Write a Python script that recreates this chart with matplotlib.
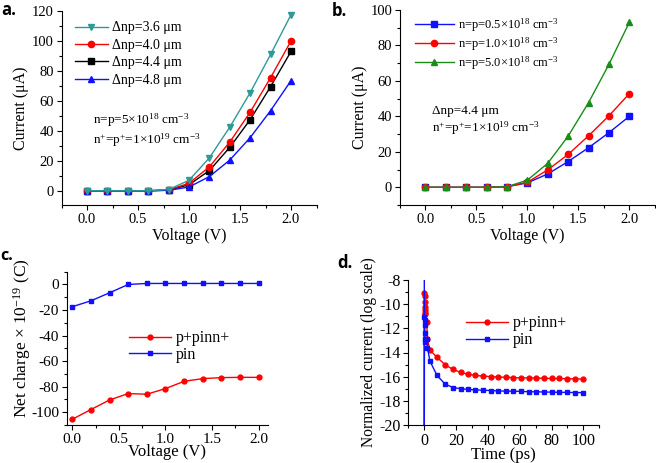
import matplotlib
matplotlib.use("Agg")
import matplotlib.pyplot as plt
from matplotlib.ticker import MultipleLocator

plt.rcParams['font.family'] = ['Liberation Serif', 'DejaVu Serif']
plt.rcParams['mathtext.fontset'] = 'custom'
plt.rcParams['mathtext.rm'] = 'Liberation Serif'
plt.rcParams['mathtext.it'] = 'Liberation Serif:italic'
plt.rcParams['axes.unicode_minus'] = False

# ---- Panel a data ----
volt = [0.0, 0.2, 0.4, 0.6, 0.8, 1.0, 1.2, 1.4, 1.6, 1.8, 2.0]
a_labels = ["Δnp=3.6 μm", "Δnp=4.0 μm", "Δnp=4.4 μm", "Δnp=4.8 μm"]
a_36 = [0, 0, 0, 0, 0.8, 7.0, 22.0, 42.5, 65.5, 91.0, 117.5]
a_40 = [0, 0, 0, 0, 0.6, 5.0, 16.0, 32.5, 52.5, 75.5, 100.0]
a_44 = [0, 0, 0, 0, 0.4, 4.0, 13.5, 29.0, 47.5, 69.5, 93.0]
a_48 = [0, 0, 0, 0, 0.3, 2.5, 9.5, 20.5, 35.5, 53.5, 73.5]

# ---- Panel b data ----
b_labels = ["n=p=0.5×10$^{18}$ cm$^{-3}$", "n=p=1.0×10$^{18}$ cm$^{-3}$",
            "n=p=5.0×10$^{18}$ cm$^{-3}$"]
b_05 = [0, 0, 0, 0, 0.3, 2.5, 7.5, 14.5, 22.3, 30.8, 40.0]
b_10 = [0, 0, 0, 0, 0.3, 2.8, 9.8, 18.5, 29.0, 40.3, 52.8]
b_50 = [0, 0, 0, 0, 0.3, 4.0, 13.5, 28.8, 47.7, 69.3, 93.0]

# ---- Panel c data ----
c_labels = ["p+pinn+", "pin"]
c_ppinn = [-105.5, -97.9, -90.4, -85.4, -85.9, -81.5, -75.8, -73.7, -72.9, -72.7, -72.7]
c_pin = [-17.4, -12.8, -6.5, 0.0, 0.8, 0.8, 0.8, 0.8, 0.8, 0.8, 0.8]

# ---- Panel d data ----
d_t_red = [0.1, 0.15, 0.2, 0.3, 0.4, 0.5, 0.7, 1.5, 2.0, 3.5, 8, 13, 18, 23, 27.5, 32,
           37, 42, 46.5, 51.5, 56, 61, 66, 70.5, 75, 80, 85, 90, 95, 100]
d_red = [-9.1, -9.3, -9.8, -10.2, -10.5, -10.7, -10.8, -11.5, -12.9, -13.8, -14.4, -15.0,
         -15.4, -15.65, -15.8, -15.9, -15.95, -16.0, -16.03, -16.05, -16.08, -16.1,
         -16.1, -16.12, -16.13, -16.15, -16.15, -16.17, -16.18, -16.2]
d_t_blue = [0.0, 0.0, 0.1, 0.15, 0.2, 0.3, 0.4, 0.6, 1.5, 2.0, 3.5, 8, 13, 18, 23, 27.5,
            32, 37, 42, 46.5, 51.5, 56, 61, 66, 70.5, 75, 80, 85, 90, 95, 100]
d_blue = [-7.0, -21.0, -11.1, -11.3, -11.7, -12.4, -12.9, -13.1, -12.9, -13.6, -14.7,
          -15.9, -16.6, -16.9, -17.0, -17.05, -17.1, -17.12, -17.15, -17.18, -17.2,
          -17.2, -17.22, -17.25, -17.25, -17.27, -17.28, -17.3, -17.3, -17.32, -17.32]

W, H = 656, 463
fig = plt.figure(figsize=(W / 100, H / 100), dpi=100)

def ax_px(l, r, t, b):
    return fig.add_axes([l / W, 1 - b / H, (r - l) / W, (b - t) / H])

TICK = 10.5
LAB = 11.5
LEG = 9.5

def style(ax, size=TICK):
    for s in ('top', 'right'):
        ax.spines[s].set_visible(False)
    ax.tick_params(direction='out', labelsize=size, length=3.5, width=0.8, pad=2)
    ax.tick_params(which='minor', direction='out', length=2, width=0.8)

teal = '#2e9a98'
red = '#ff0000'
blue = '#1010ff'
green = '#1a8c1a'

# Panel a
axa = ax_px(61.5, 316.5, 11, 205)
axa.plot(volt, a_36, color=teal, marker='v', ms=4.5, lw=1, label=a_labels[0], zorder=5)
axa.plot(volt, a_40, color=red, marker='o', ms=4.5, lw=1, label=a_labels[1], zorder=3)
axa.plot(volt, a_44, color='black', marker='s', ms=4, lw=1, label=a_labels[2], zorder=2)
axa.plot(volt, a_48, color=blue, marker='^', ms=4.5, lw=1, label=a_labels[3], zorder=4)
axa.set_xlim(-0.25, 2.25)
axa.set_ylim(-9.5, 120)
axa.xaxis.set_major_locator(MultipleLocator(0.5))
axa.xaxis.set_minor_locator(MultipleLocator(0.25))
axa.yaxis.set_major_locator(MultipleLocator(20))
axa.yaxis.set_minor_locator(MultipleLocator(10))
style(axa)
axa.set_xlabel("Voltage (V)", fontsize=LAB, labelpad=2)
axa.set_ylabel("Current (μA)", fontsize=LAB, labelpad=2)
axa.legend(loc='upper left', bbox_to_anchor=(0.03, 0.975), frameon=False,
           fontsize=10, handlelength=2.4, handletextpad=0.3, labelspacing=0.32,
           borderaxespad=0)
axa.text(0.125, 0.29, "n=p=5×10$^{18}$ cm$^{-3}$\nn$^{+}$=p$^{+}$=1×10$^{19}$ cm$^{-3}$",
         transform=axa.transAxes, fontsize=LEG, va='bottom', linespacing=1.15)

# Panel b
axb = ax_px(399.8, 654.8, 10, 205)
axb.plot(volt, b_05, color=blue, marker='s', ms=4, lw=1, label=b_labels[0], zorder=2)
axb.plot(volt, b_10, color=red, marker='o', ms=4.5, lw=1, label=b_labels[1], zorder=3)
axb.plot(volt, b_50, color=green, marker='^', ms=4.5, lw=1, label=b_labels[2], zorder=4)
axb.set_xlim(-0.25, 2.25)
axb.set_ylim(-10, 100)
axb.xaxis.set_major_locator(MultipleLocator(0.5))
axb.xaxis.set_minor_locator(MultipleLocator(0.25))
axb.yaxis.set_major_locator(MultipleLocator(20))
axb.yaxis.set_minor_locator(MultipleLocator(10))
style(axb)
axb.set_xlabel("Voltage (V)", fontsize=LAB, labelpad=2)
axb.set_ylabel("Current (μA)", fontsize=LAB, labelpad=2)
axb.legend(loc='upper left', bbox_to_anchor=(0.04, 0.995), frameon=False,
           fontsize=9, handlelength=3.1, handletextpad=0.35, labelspacing=0.12,
           borderaxespad=0)
axb.text(0.125, 0.35, "Δnp=4.4 μm\nn$^{+}$=p$^{+}$=1×10$^{19}$ cm$^{-3}$",
         transform=axb.transAxes, fontsize=LEG, va='bottom', linespacing=1.15)

# Panel c
axc = ax_px(66.7, 268, 271.7, 425)
axc.plot(volt, c_ppinn, color=red, marker='o', ms=3.5, lw=1, label=c_labels[0])
axc.plot(volt, c_pin, color=blue, marker='s', ms=3.5, lw=1, label=c_labels[1])
axc.set_xlim(-0.06, 2.1)
axc.set_ylim(-110, 10)
axc.xaxis.set_major_locator(MultipleLocator(0.5))
axc.xaxis.set_minor_locator(MultipleLocator(0.25))
axc.yaxis.set_major_locator(MultipleLocator(20))
axc.yaxis.set_minor_locator(MultipleLocator(10))
style(axc, 11)
axc.set_xlabel("Voltage (V)", fontsize=12, labelpad=-1)
axc.set_ylabel("Net charge × 10$^{-19}$ (C)", fontsize=12.5)
axc.yaxis.set_label_coords(-0.165, 0.57)
axc.legend(loc='upper left', bbox_to_anchor=(0.28, 0.66), frameon=False,
           fontsize=11.5, handlelength=2.6, handletextpad=0.3, labelspacing=0.05,
           borderaxespad=0)

# Panel d
axd = ax_px(408.4, 599.2, 280, 425)
axd.plot(d_t_red, d_red, color=red, marker='o', ms=3.5, lw=1, label=c_labels[0])
axd.plot(d_t_blue, d_blue, color=blue, marker='s', ms=3.5, lw=1, label=c_labels[1])
axd.set_xlim(-10, 110)
axd.set_ylim(-20, -8)
axd.xaxis.set_major_locator(MultipleLocator(20))
axd.xaxis.set_minor_locator(MultipleLocator(10))
axd.yaxis.set_major_locator(MultipleLocator(2))
axd.yaxis.set_minor_locator(MultipleLocator(1))
style(axd, 11.5)
axd.set_xlabel("Time (ps)", fontsize=12, labelpad=-1)
axd.set_ylabel("Normalized current (log scale)", fontsize=11.2, labelpad=1.5)
axd.legend(loc='upper left', bbox_to_anchor=(0.27, 0.80), frameon=False,
           fontsize=11.5, handlelength=2.6, handletextpad=0.3, labelspacing=0.05,
           borderaxespad=0)

# Panel letters
for x, y, s in [(0, 256, "c."), (1, 10, "a."), (332, 11, "b."), (337, 263, "d.")]:
    fig.text(x / W, 1 - y / H, s, fontsize=11.5 if s == "c." else 12, fontweight='bold',
             family='Open Sans', va='center', ha='left')

fig.savefig("out.png", dpi=100)
